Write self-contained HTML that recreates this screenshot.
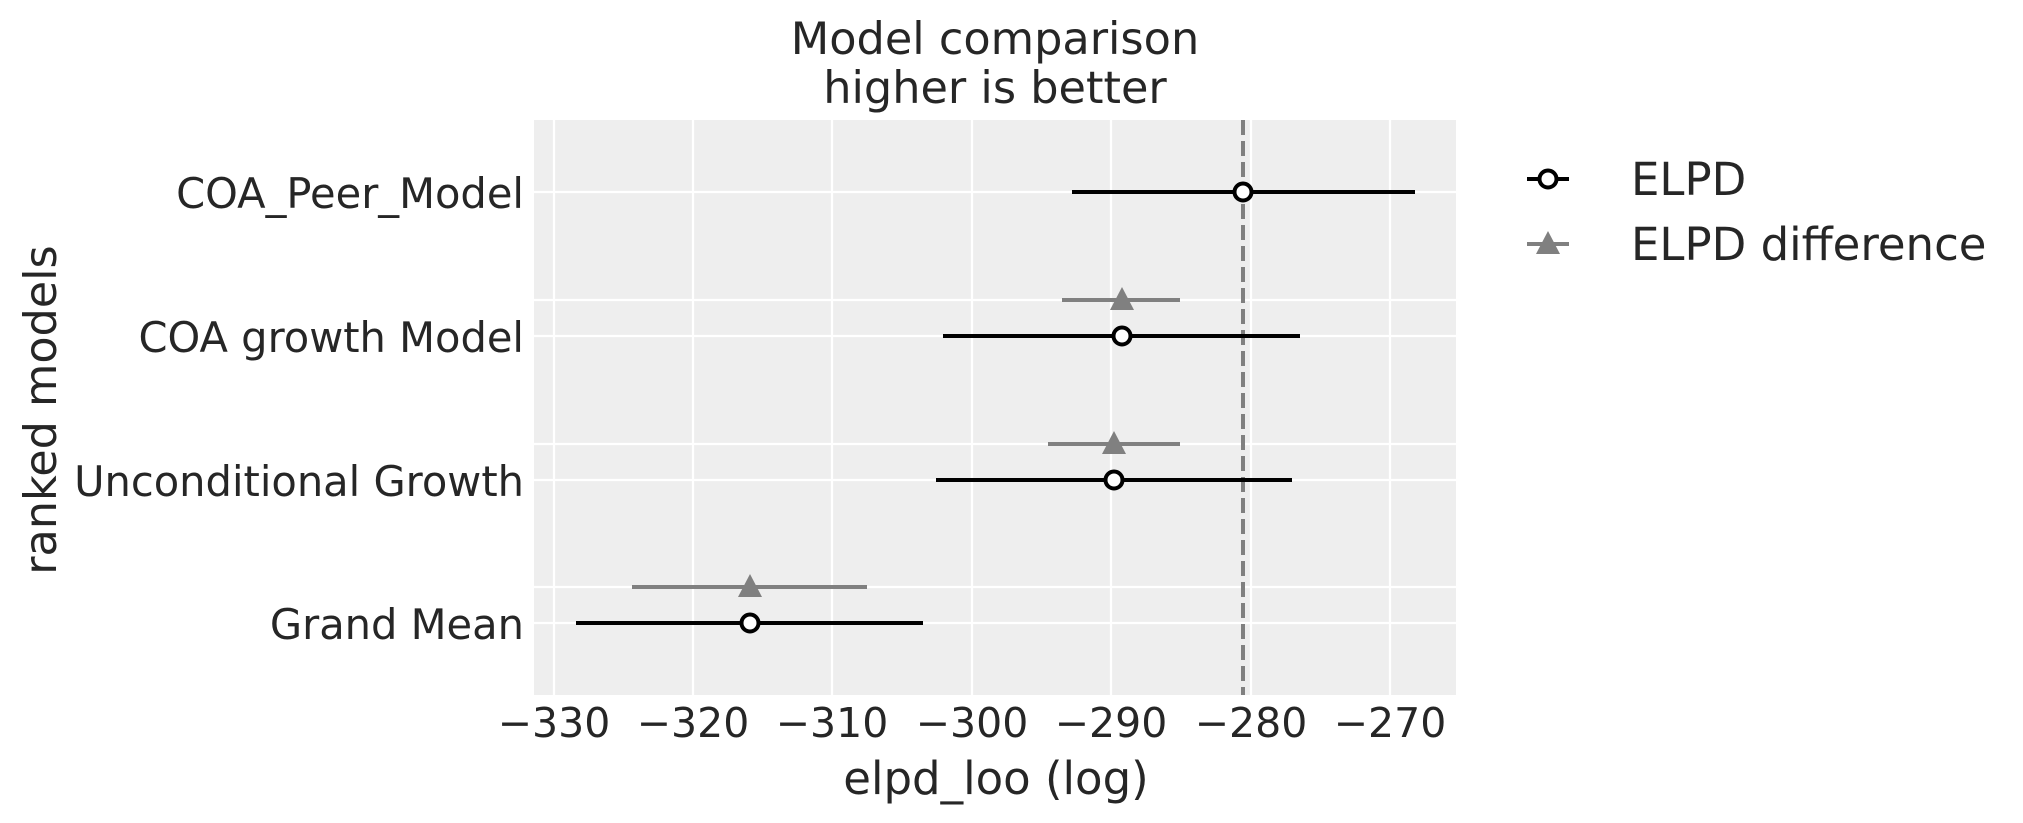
<!DOCTYPE html>
<html><head><meta charset="utf-8"><style>
html,body{margin:0;padding:0;background:#fff;}
svg{display:block;}
text{font-family:"DejaVu Sans","Liberation Sans",sans-serif;fill:#262626;}
</style></head><body>
<svg width="2023" height="823" viewBox="0 0 2023 823" xmlns="http://www.w3.org/2000/svg">
<rect x="534" y="120" width="922" height="575" fill="#eeeeee"/>
<g stroke="#ffffff" stroke-width="2.2">
<line x1="554" y1="120" x2="554" y2="695"/>
<line x1="693" y1="120" x2="693" y2="695"/>
<line x1="832" y1="120" x2="832" y2="695"/>
<line x1="972" y1="120" x2="972" y2="695"/>
<line x1="1111" y1="120" x2="1111" y2="695"/>
<line x1="1251" y1="120" x2="1251" y2="695"/>
<line x1="1390" y1="120" x2="1390" y2="695"/>
<line x1="534" y1="192" x2="1456" y2="192"/>
<line x1="534" y1="300" x2="1456" y2="300"/>
<line x1="534" y1="336" x2="1456" y2="336"/>
<line x1="534" y1="444" x2="1456" y2="444"/>
<line x1="534" y1="480" x2="1456" y2="480"/>
<line x1="534" y1="587" x2="1456" y2="587"/>
<line x1="534" y1="623" x2="1456" y2="623"/>
</g>
<line x1="1243" y1="120" x2="1243" y2="695" stroke="#808080" stroke-width="4" stroke-dasharray="15,6"/>
<g stroke="#808080" stroke-width="4">
<line x1="1062" y1="300" x2="1180" y2="300"/>
<line x1="1048" y1="444" x2="1180" y2="444"/>
<line x1="632" y1="587" x2="867" y2="587"/>
</g>
<g fill="#808080">
<polygon points="1122,287 1134,310 1110,310"/>
<polygon points="1114,431 1126,454 1102,454"/>
<polygon points="750,574 762,597 738,597"/>
</g>
<g stroke="#000" stroke-width="4">
<line x1="1072" y1="192" x2="1415" y2="192"/>
<line x1="943" y1="336" x2="1300" y2="336"/>
<line x1="936" y1="480" x2="1292" y2="480"/>
<line x1="576" y1="623" x2="923" y2="623"/>
</g>
<g fill="#fff" stroke="#000" stroke-width="4">
<circle cx="1243" cy="192" r="8.5"/>
<circle cx="1122" cy="336" r="8.5"/>
<circle cx="1114" cy="480" r="8.5"/>
<circle cx="750" cy="623" r="8.5"/>
</g>
<g font-size="41" text-anchor="middle">
<text x="554" y="737">−330</text>
<text x="693" y="737">−320</text>
<text x="832" y="737">−310</text>
<text x="972" y="737">−300</text>
<text x="1111" y="737">−290</text>
<text x="1251" y="737">−280</text>
<text x="1390" y="737">−270</text>
</g>
<g font-size="41.6" text-anchor="end">
<text x="524" y="208">COA_Peer_Model</text>
<text x="524" y="352">COA growth Model</text>
<text x="524" y="496">Unconditional Growth</text>
<text x="524" y="639">Grand Mean</text>
</g>
<text font-size="45" text-anchor="middle" x="996" y="794">elpd_loo (log)</text>
<text font-size="44.5" text-anchor="middle" transform="translate(56,410) rotate(-90)">ranked models</text>
<text font-size="44.6" text-anchor="middle" x="995" y="54">Model comparison</text>
<text font-size="44.6" text-anchor="middle" x="995" y="103">higher is better</text>
<line x1="1527" y1="179" x2="1569" y2="179" stroke="#000" stroke-width="4"/>
<circle cx="1548" cy="179" r="8.5" fill="#fff" stroke="#000" stroke-width="4"/>
<line x1="1527" y1="244" x2="1569" y2="244" stroke="#808080" stroke-width="4"/>
<polygon points="1548,231 1560,254 1536,254" fill="#808080"/>
<text font-size="45" x="1631" y="195">ELPD</text>
<text font-size="45" x="1631" y="260">ELPD difference</text>
</svg>
</body></html>
